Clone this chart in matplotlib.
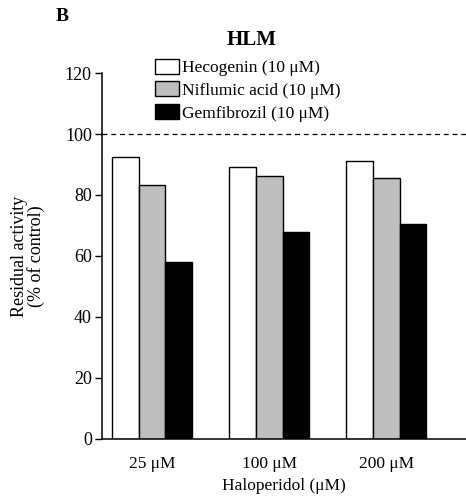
import matplotlib
matplotlib.use("Agg")
import matplotlib.pyplot as plt
import numpy as np

plt.rcParams['font.family'] = ['Liberation Serif', 'DejaVu Serif']

doses = ['25 \u03bcM', '100 \u03bcM', '200 \u03bcM']
hecogenin = [92.3, 89.2, 91.3]
niflumic = [83.3, 86.3, 85.5]
gemfibrozil = [58.1, 67.7, 70.6]
series_names = ['Hecogenin (10 \u03bcM)', 'Niflumic acid (10 \u03bcM)', 'Gemfibrozil (10 \u03bcM)']
colors = ['white', '#bebebe', 'black']

fig = plt.figure(figsize=(4.66, 4.97), dpi=100)
ax = fig.add_axes([0.218, 0.117, 0.782, 0.736])

x = np.arange(len(doses))
w = 0.228
for i, (vals, name, c) in enumerate(zip([hecogenin, niflumic, gemfibrozil], series_names, colors)):
    ax.bar(x + (i - 1) * w, vals, w, color=c, edgecolor='black', linewidth=1.0, label=name)

ax.axhline(100, color='black', linestyle=(0, (4, 3)), linewidth=0.9)

ax.set_ylim(0, 120)
ax.set_xlim(-0.43, 2.68)
ax.set_yticks([0, 20, 40, 60, 80, 100, 120])
ax.set_xticks(x)
ax.set_xticklabels(doses)
ax.tick_params(axis='x', length=0, pad=12, labelsize=12.5)
ax.tick_params(axis='y', length=5, width=1, labelsize=13, pad=2)
for s in ['top', 'right']:
    ax.spines[s].set_visible(False)
for s in ['left', 'bottom']:
    ax.spines[s].set_linewidth(1.1)

ax.set_ylabel('Residual activity\n(% of control)', fontsize=13, labelpad=14, linespacing=0.97)
ax.set_xlabel('Haloperidol (\u03bcM)', fontsize=12.5, labelpad=5)

leg = ax.legend(loc='upper left', bbox_to_anchor=(0.128, 1.058), frameon=False, fontsize=12.5,
                handlelength=1.35, handleheight=0.95, handletextpad=0.2, labelspacing=0.3,
                borderaxespad=0)

fig.text(0.54, 0.92, 'HLM', fontsize=15, fontweight='bold', ha='center', va='center')
fig.text(0.133, 0.966, 'B', fontsize=14, fontweight='bold', ha='center', va='center')

fig.savefig('out.png', dpi=100)
